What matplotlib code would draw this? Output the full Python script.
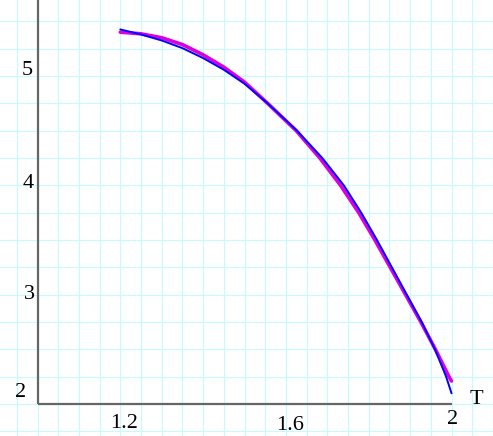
import numpy as np
import matplotlib
matplotlib.use("Agg")
import matplotlib.pyplot as plt

# ----- data ----- #
blue_T = [1.200, 1.250, 1.300, 1.350, 1.400, 1.450, 1.500, 1.556, 1.627, 1.688,
          1.740, 1.782, 1.820, 1.856, 1.892, 1.928, 1.960, 1.987, 2.000]
blue_y = [5.427, 5.381, 5.326, 5.256, 5.165, 5.058, 4.930, 4.750, 4.500, 4.250,
          4.000, 3.750, 3.500, 3.250, 3.000, 2.750, 2.500, 2.250, 2.098]
magenta_T = [1.200, 1.250, 1.300, 1.350, 1.400, 1.450, 1.500, 1.556, 1.625, 1.682,
             1.732, 1.776, 1.815, 1.852, 1.889, 1.926, 1.961, 1.994, 2.000]
magenta_y = [5.402, 5.387, 5.351, 5.289, 5.195, 5.082, 4.945, 4.750, 4.500, 4.250,
             4.000, 3.750, 3.500, 3.250, 3.000, 2.750, 2.500, 2.250, 2.210]

xticks = [1.2, 1.6, 2.0]
xtick_labels = ["1.2", "1.6", "2"]
yticks = [5, 4, 3, 2]
ytick_labels = ["5", "4", "3", "2"]

# ----- figure ----- #
fig = plt.figure(figsize=(4.93, 4.36), dpi=100)
ax = fig.add_axes([0, 0, 1, 1])
ax.set_xlim(0.9094, 2.1002)
ax.set_ylim(1.7072, 5.6963)
for s in ax.spines.values():
    s.set_visible(False)
ax.set_xticks(np.arange(0.95, 2.11, 0.05))
ax.set_yticks(np.arange(1.75, 5.7, 0.25))
ax.tick_params(length=0, labelbottom=False, labelleft=False)
ax.grid(True, color="#c8fafc", lw=0.8)
ax.set_axisbelow(True)

# axes lines
ax.plot([1.0, 1.0], [2.0, 5.7], color="#666666", lw=1.6, solid_capstyle="butt", clip_on=False)
ax.plot([1.0, 2.0], [2.0, 2.0], color="#666666", lw=1.6, solid_capstyle="butt")

# curves
ax.plot(magenta_T, magenta_y, color="#dd00dd", lw=2.6, solid_capstyle="round")
ax.plot(blue_T, blue_y, color="#0000ff", lw=1.4, solid_capstyle="round")

serif = dict(family="Liberation Serif", fontsize=16, color="black")
xoff = [(4, -20), (4, -22), (1, -16)]
for v, lab, off in zip(xticks, xtick_labels, xoff):
    ax.annotate(lab, (v, 2.0), xytext=off, textcoords="offset pixels",
                ha="center", va="center", **serif)
yoff = [(-10, 6), (-9, 2), (-8, 0), (-17, 11)]
for v, lab, off in zip(yticks, ytick_labels, yoff):
    ax.annotate(lab, (1.0, v), xytext=off, textcoords="offset pixels",
                ha="center", va="center", **serif)
ax.annotate("T", (2.0, 2.0), xytext=(25, 4), textcoords="offset pixels",
            ha="center", va="center", **serif)

fig.savefig("out.png", dpi=100)
